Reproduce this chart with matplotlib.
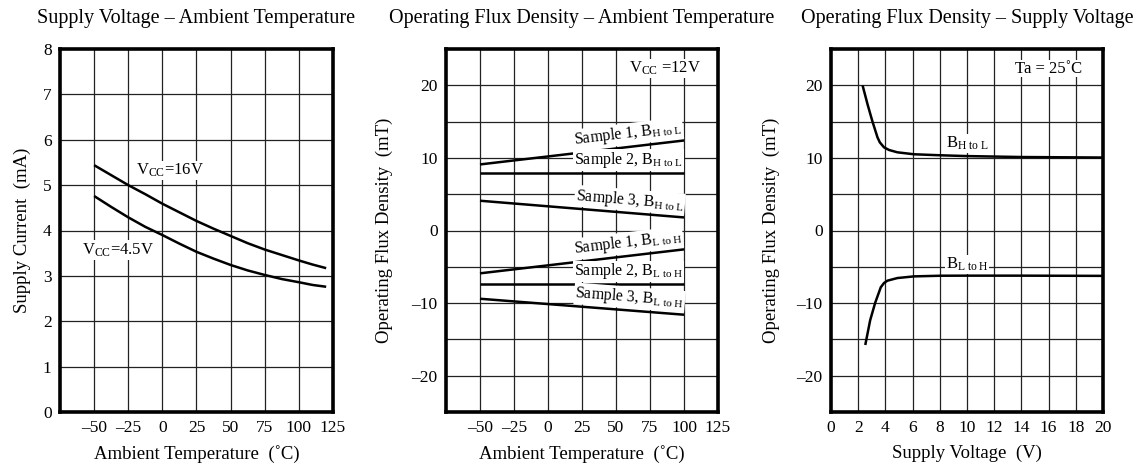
"""Hall IC characteristic curves: supply current and operating flux density."""

import math

import matplotlib

matplotlib.use("Agg")
import matplotlib.pyplot as plt


plt.rcParams["font.family"] = ["Liberation Serif", "DejaVu Serif"]
plt.rcParams["mathtext.fontset"] = "custom"
plt.rcParams["mathtext.rm"] = "Liberation Serif"
plt.rcParams["mathtext.it"] = "Liberation Serif:italic"
plt.rcParams["axes.unicode_minus"] = False

# --- panel 1: supply current vs ambient temperature ---
temp_pts = [-50, -37.5, -25, -12.5, 0, 12.5, 25, 37.5, 50, 62.5, 75, 87.5, 100, 110, 120]
icc_16v = [5.44, 5.22, 5.00, 4.80, 4.59, 4.40, 4.21, 4.04, 3.88, 3.72, 3.58, 3.46,
           3.34, 3.25, 3.17]
icc_45v = [4.76, 4.52, 4.29, 4.08, 3.90, 3.71, 3.53, 3.38, 3.24, 3.12, 3.02, 2.93,
           2.86, 2.80, 2.76]

# --- panel 2: operating flux density vs ambient temperature ---
flux_temp = [-50, 100]
s1_hl = [9.1, 12.4]
s2_hl = [7.9, 7.9]
s3_hl = [4.1, 1.8]
s1_lh = [-5.9, -2.6]
s2_lh = [-7.4, -7.4]
s3_lh = [-9.4, -11.6]

# --- panel 3: operating flux density vs supply voltage ---
vcc_hl = [2.32, 2.69, 3.05, 3.42, 3.59, 3.9, 4.27, 4.88, 6.1, 8.06, 10.0, 14.0, 20.0]
b_hl = [20.0, 17.36, 15.0, 12.82, 12.14, 11.45, 11.09, 10.77, 10.5, 10.36, 10.25,
        10.12, 10.05]
vcc_lh = [2.52, 2.88, 3.25, 3.66, 3.9, 4.15, 4.88, 6.1, 8.06, 10.0, 14.0, 20.0]
b_lh = [-15.77, -12.36, -9.95, -7.82, -7.23, -6.91, -6.55, -6.32, -6.23, -6.22,
        -6.22, -6.25]

temp_ticks = [-50, -25, 0, 25, 50, 75, 100, 125]
vcc_ticks = list(range(0, 21, 2))

W, H = 1139, 466
LINE = dict(color="black", linewidth=1.8, solid_capstyle="butt")
WHITE = dict(facecolor="white", edgecolor="none", pad=0.6)


def _fmt(v):
    return f"\u2013{abs(v):g}" if v < 0 else f"{v:g}"


def _frame(ax, xlim, ylim, xgrid, ygrid, xticks, yticks):
    ax.set_xlim(*xlim)
    ax.set_ylim(*ylim)
    for x in xgrid:
        ax.axvline(x, color="#222222", linewidth=0.9, zorder=1)
    for y in ygrid:
        ax.axhline(y, color="#222222", linewidth=0.9, zorder=1)
    ax.set_xticks(xticks)
    ax.set_xticklabels([_fmt(t) for t in xticks])
    ax.set_yticks(yticks)
    ax.set_yticklabels([_fmt(t) for t in yticks])
    ax.tick_params(length=0, labelsize=12.5, pad=6)
    for sp in ax.spines.values():
        sp.set_linewidth(2.6)


def _add_axes(fig, left, right, top=49, bottom=412):
    return fig.add_axes([left / W, 1 - bottom / H, (right - left) / W, (bottom - top) / H])


def _slope_label(ax, xs, ys, text, x_end=99.5, off=0.4):
    p0 = ax.transData.transform((xs[0], ys[0]))
    p1 = ax.transData.transform((xs[1], ys[1]))
    ang = math.degrees(math.atan2(p1[1] - p0[1], p1[0] - p0[0]))
    y_end = ys[0] + (ys[1] - ys[0]) * (x_end - xs[0]) / (xs[1] - xs[0])
    ax.text(x_end, y_end + off, text, ha="right", va="bottom", rotation=ang,
            rotation_mode="anchor", fontsize=11.5, bbox=WHITE, zorder=3)


fig = plt.figure(figsize=(W / 100, H / 100), dpi=100)

# panel 1
ax1 = _add_axes(fig, 60, 333)
_frame(ax1, (-75, 125), (0, 8), [-50, -25, 0, 25, 50, 75, 100], range(1, 8),
       temp_ticks, range(0, 9))
ax1.plot(temp_pts, icc_16v, **LINE, zorder=2)
ax1.plot(temp_pts, icc_45v, **LINE, zorder=2)
ax1.text(5.2, 5.33, r"V$_{\mathrm{CC}}$=16V", ha="center", va="center",
         fontsize=12, bbox=WHITE, zorder=3)
ax1.text(-32.5, 3.57, r"V$_{\mathrm{CC}}$=4.5V", ha="center", va="center",
         fontsize=12, bbox=WHITE, zorder=3)
ax1.set_xlabel("Ambient Temperature  (\u02daC)", fontsize=13.5, labelpad=6)
ax1.set_ylabel("Supply Current  (mA)", fontsize=13.5, labelpad=8.5)

# panel 2
ax2 = _add_axes(fig, 446, 718)
_frame(ax2, (-75, 125), (-25, 25), [-50, -25, 0, 25, 50, 75, 100],
       [-20, -15, -10, -5, 0, 5, 10, 15, 20], temp_ticks, [-20, -10, 0, 10, 20])
series2 = [
    (s1_hl, r"Sample 1, B$_{\mathrm{H\ to\ L}}$"),
    (s2_hl, r"Sample 2, B$_{\mathrm{H\ to\ L}}$"),
    (s3_hl, r"Sample 3, B$_{\mathrm{H\ to\ L}}$"),
    (s1_lh, r"Sample 1, B$_{\mathrm{L\ to\ H}}$"),
    (s2_lh, r"Sample 2, B$_{\mathrm{L\ to\ H}}$"),
    (s3_lh, r"Sample 3, B$_{\mathrm{L\ to\ H}}$"),
]
for ys, label in series2:
    ax2.plot(flux_temp, ys, **LINE, zorder=2)
    _slope_label(ax2, flux_temp, ys, label)
ax2.text(86, 22.3, r"V$_{\mathrm{CC}}$ =12V", ha="center", va="center",
         fontsize=12, bbox=WHITE, zorder=3)
ax2.set_xlabel("Ambient Temperature  (\u02daC)", fontsize=13.5, labelpad=6)
ax2.set_ylabel("Operating Flux Density  (mT)", fontsize=13.5, labelpad=13)

# panel 3
ax3 = _add_axes(fig, 831, 1103)
_frame(ax3, (0, 20), (-25, 25), range(2, 20, 2),
       [-20, -15, -10, -5, 0, 5, 10, 15, 20], vcc_ticks, [-20, -10, 0, 10, 20])
ax3.plot(vcc_hl, b_hl, **LINE, zorder=2)
ax3.plot(vcc_lh, b_lh, **LINE, zorder=2)
ax3.text(10, 12.0, r"B$_{\mathrm{H\ to\ L}}$", ha="center", va="center",
         fontsize=12, bbox=WHITE, zorder=3)
ax3.text(10, -4.7, r"B$_{\mathrm{L\ to\ H}}$", ha="center", va="center",
         fontsize=12, bbox=WHITE, zorder=3)
ax3.text(16, 22.3, "Ta = 25\u02daC", ha="center", va="center",
         fontsize=12, bbox=WHITE, zorder=3)
ax3.set_xlabel("Supply Voltage  (V)", fontsize=13.5, labelpad=6)
ax3.set_ylabel("Operating Flux Density  (mT)", fontsize=13.5, labelpad=12)

titles = [
    (196, "Supply Voltage \u2013 Ambient Temperature"),
    (582, "Operating Flux Density \u2013 Ambient Temperature"),
    (967, "Operating Flux Density \u2013 Supply Voltage"),
]
for cx, t in titles:
    fig.text(cx / W, 1 - 18 / H, t, ha="center", va="center", fontsize=14.5)

fig.savefig("out.png", dpi=100)
